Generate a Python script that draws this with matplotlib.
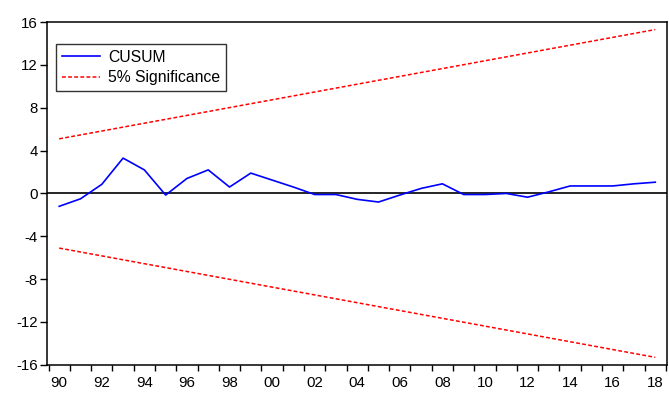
import numpy as np
import matplotlib.pyplot as plt
from matplotlib.ticker import FixedLocator

plt.rcParams['font.family'] = ['Liberation Sans', 'DejaVu Sans']
plt.rcParams['axes.unicode_minus'] = False

# CUSUM statistic, annual 1990-2018
years = list(range(1990, 2019))
cusum = [-1.2, -0.5, 0.85, 3.3, 2.2, -0.15, 1.4, 2.2, 0.6, 1.9,
         1.25, 0.6, -0.1, -0.1, -0.55, -0.8, -0.15, 0.47, 0.9, -0.1,
         -0.1, 0.0, -0.35, 0.15, 0.7, 0.7, 0.7, 0.9, 1.05]

# 5% significance bounds (straight lines between first and last year)
bound_years = [1990, 2018]
upper = [5.1, 15.3]
lower = [-5.1, -15.3]

y_ticks = [-16, -12, -8, -4, 0, 4, 8, 12, 16]
x_labels = ['90', '92', '94', '96', '98', '00', '02', '04', '06', '08',
            '10', '12', '14', '16', '18']

fig = plt.figure(figsize=(6.69, 3.94), dpi=100)
ax = fig.add_axes([0.071, 0.074, 0.926, 0.870])

ax.axhline(0, color='black', linewidth=1.2, zorder=1)
ax.plot(years, cusum, color='#0000ff', linewidth=1.2, label='CUSUM', zorder=3)
ax.plot(bound_years, upper, color='red', linewidth=1.1, linestyle=(0, (2.5, 1.5)),
        label='5% Significance', zorder=2)
ax.plot(bound_years, lower, color='red', linewidth=1.1, linestyle=(0, (2.5, 1.5)),
        zorder=2)

ax.set_xlim(1989.45, 2018.55)
ax.set_ylim(-16, 16)

# labels sit on the even years, tick marks fall between years
ax.xaxis.set_major_locator(FixedLocator(list(range(1990, 2019, 2))))
ax.set_xticklabels(x_labels)
ax.xaxis.set_minor_locator(FixedLocator([y + 0.5 for y in range(1989, 2019)]))
ax.tick_params(axis='x', which='major', length=0, pad=8, labelsize=10.8)
ax.tick_params(axis='x', which='minor', length=4.5, width=1, direction='out')

ax.set_yticks(y_ticks)
ax.tick_params(axis='y', which='major', length=5, width=1, direction='out',
               labelsize=10.8, pad=2)

for s in ax.spines.values():
    s.set_linewidth(1.1)

leg = ax.legend(loc='upper left', bbox_to_anchor=(0.0145, 0.935), fontsize=11.3,
                frameon=True, fancybox=False, edgecolor='black', handlelength=2.4,
                borderpad=0.35, labelspacing=0.36, handletextpad=0.55,
                borderaxespad=0)
leg.get_frame().set_linewidth(1.0)

fig.savefig('out.png', dpi=100)
